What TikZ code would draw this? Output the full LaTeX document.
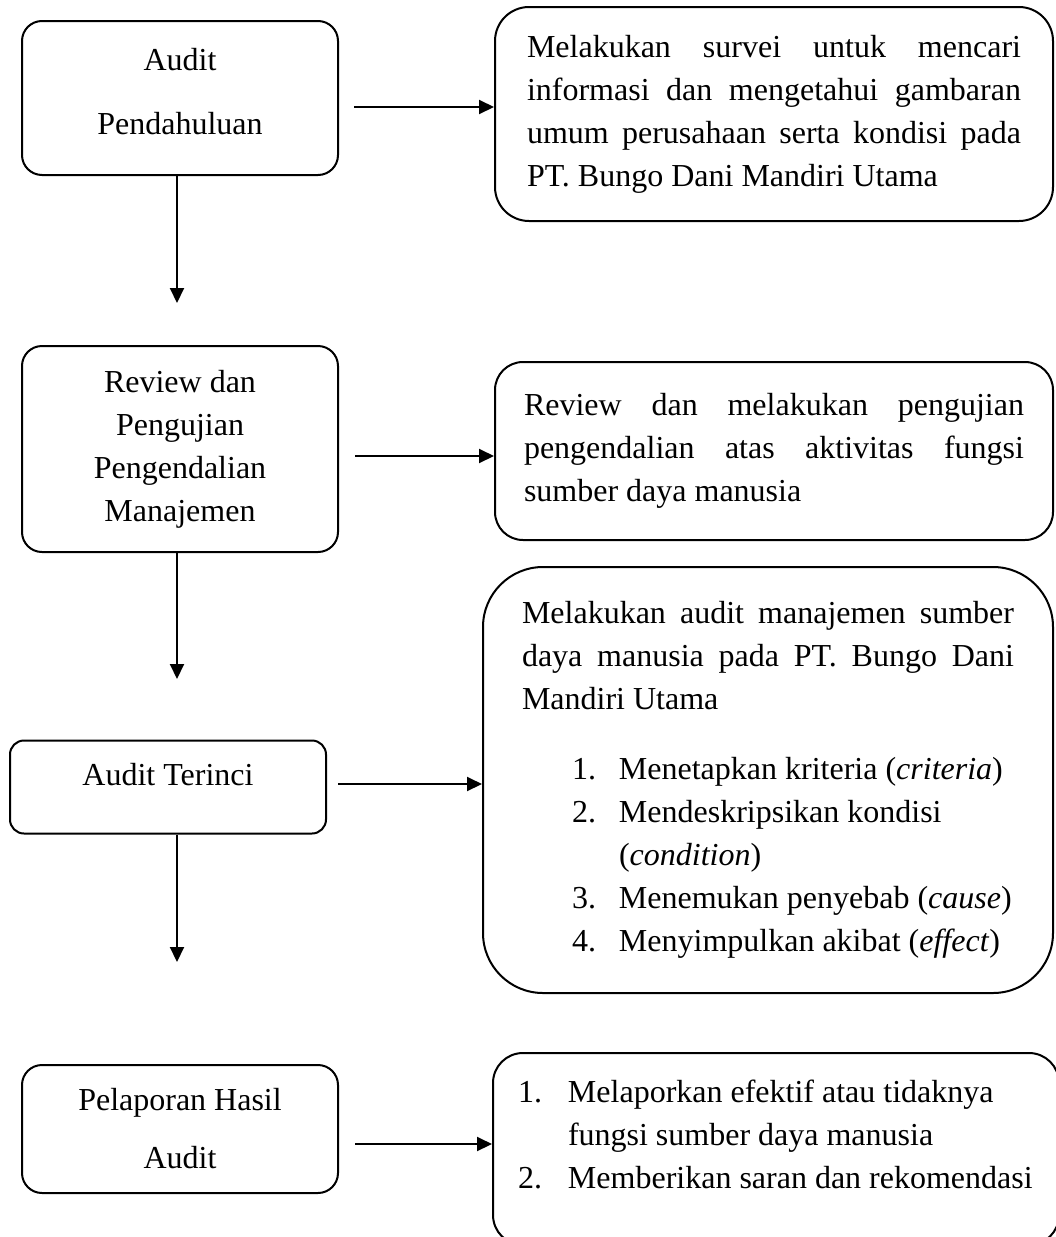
\documentclass[tikz,border=0pt]{standalone}
\usepackage{fontspec}
\setmainfont{Liberation Serif}
\usetikzlibrary{arrows.meta}
\setlength{\parindent}{0pt}
\hyphenpenalty=10000
\frenchspacing
\newcommand{\butir}[3]{\par\hangindent=#2\hangafter=1\noindent\hspace*{#1}\makebox[\dimexpr#2-#1\relax][l]{#3}}

\begin{document}
\begin{tikzpicture}[x=0.5pt,y=-0.5pt,line width=1pt,>={Triangle[length=7.5pt,width=7pt]},
    every node/.style={font=\fontsize{16pt}{21.5pt}\selectfont},
    tahap/.style={draw,rounded corners=10pt,align=center,inner sep=0pt,minimum width=158pt},
    uraian/.style={draw,align=justify,inner ysep=0pt}]
    \useasboundingbox (0,0) rectangle (1055,1237);

    \node[tahap,minimum height=77pt,text depth=7pt] (pendahuluan) at (180,98) {Audit\\[10.5pt]Pendahuluan};
    \node[tahap,minimum height=103pt] (review) at (180,449) {Review dan\\Pengujian\\Pengendalian\\Manajemen};
    \node[tahap,rounded corners=7pt,minimum height=46.5pt,text height=12pt,text depth=13.5pt] (terinci) at (168,787) {Audit Terinci};
    \node[tahap,minimum height=64pt] (pelaporan) at (180,1129) {Pelaporan Hasil\\[7.5pt]Audit};

    \node[uraian,rounded corners=17pt,text width=247pt,inner xsep=16pt,minimum height=107pt] (survei) at (774,114)
        {Melakukan survei untuk mencari\linebreak informasi dan mengetahui gambaran\linebreak umum perusahaan serta kondisi pada\linebreak PT. Bungo Dani Mandiri Utama};
    \node[uraian,rounded corners=14pt,text width=250pt,inner xsep=14.5pt,minimum height=89pt] (pengujian) at (774,451)
        {Review dan melakukan pengujian\linebreak pengendalian atas aktivitas fungsi\linebreak sumber daya manusia};
    \node[uraian,rounded corners=30pt,text width=246pt,inner xsep=19.5pt,minimum height=213pt] (rinci) at (768,780)
        {Melakukan audit manajemen sumber\linebreak daya manusia pada PT. Bungo Dani\linebreak Mandiri Utama\par\vspace{13.5pt}
        \butir{25pt}{48.5pt}{1.}Menetapkan kriteria (\textit{criteria})
        \butir{25pt}{48.5pt}{2.}Mendeskripsikan kondisi\newline(\textit{condition})
        \butir{25pt}{48.5pt}{3.}Menemukan penyebab (\textit{cause})
        \butir{25pt}{48.5pt}{4.}Menyimpulkan akibat (\textit{effect})};
    \node[uraian,rounded corners=15pt,text width=258pt,inner xsep=12.5pt,minimum height=96pt] (laporan) at (776,1149)
        {\butir{0pt}{25pt}{1.}Melaporkan efektif atau tidaknya\newline fungsi sumber daya manusia
        \butir{0pt}{25pt}{2.}Memberikan saran dan rekomendasi\par\vspace{4pt}\null};

    \coordinate (t1) at (177,303);
    \coordinate (t2) at (177,679);
    \coordinate (t3) at (177,962);
    \coordinate (s1) at (354,107);
    \coordinate (s2) at (355,456);
    \coordinate (s3) at (338,784);
    \coordinate (s4) at (355,1144);

    \draw[->] (pendahuluan.south -| t1) -- (t1);
    \draw[->] (review.south -| t2) -- (t2);
    \draw[->] (terinci.south -| t3) -- (t3);
    \draw[->] (s1) -- (s1 -| survei.west);
    \draw[->] (s2) -- (s2 -| pengujian.west);
    \draw[->] (s3) -- (s3 -| rinci.west);
    \draw[->] (s4) -- (s4 -| laporan.west);
\end{tikzpicture}
\end{document}
